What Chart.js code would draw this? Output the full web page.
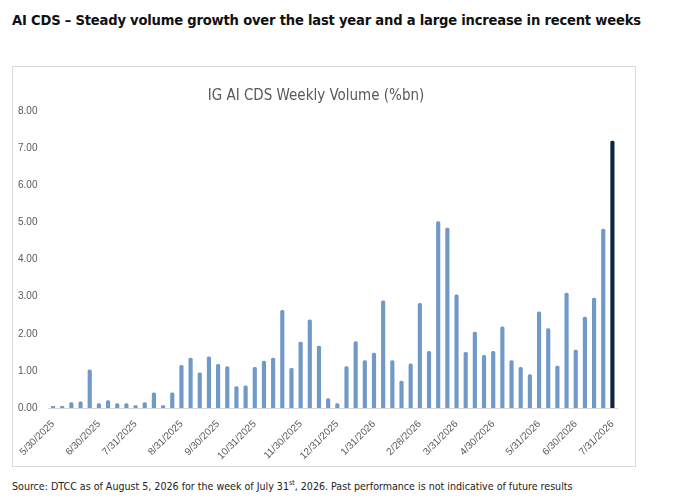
<!DOCTYPE html>
<html><head><meta charset="utf-8">
<script src="https://cdn.jsdelivr.net/npm/chart.js@4/dist/chart.umd.min.js"></script>
<style>
body{margin:0;background:#fff;width:678px;height:498px;position:relative;font-family:"DejaVu Sans Condensed","DejaVu Sans",sans-serif;}
#head{position:absolute;left:12px;top:11px;font-weight:bold;font-size:14.6px;color:#111;letter-spacing:-0.2px;}
#box{position:absolute;left:12px;top:66px;width:624px;height:401px;border:1px solid #d9d9d9;box-sizing:border-box;}
#foot{position:absolute;left:12px;top:479px;font-size:10.6px;color:#222;}
#foot sup{font-size:7px;}
</style></head><body>
<div id="head">AI CDS – Steady volume growth over the last year and a large increase in recent weeks</div>
<div id="box"><canvas id="c"></canvas></div>
<div id="foot">Source: DTCC as of August 5, 2026 for the week of July 31<sup>st</sup>, 2026. Past performance is not indicative of future results</div>
<script>
const volumes = [0.05,0.05,0.15,0.17,1.03,0.12,0.20,0.12,0.12,0.07,0.15,0.41,0.07,0.41,1.15,1.35,0.95,1.38,1.18,1.12,
  0.58,0.60,1.10,1.27,1.35,2.63,1.07,1.78,2.38,1.67,0.26,0.12,1.12,1.79,1.28,1.48,2.89,1.28,0.73,1.19,
  2.82,1.53,5.02,4.85,3.05,1.50,2.05,1.42,1.53,2.19,1.28,1.10,0.90,2.59,2.14,1.13,3.10,1.56,2.45,2.96,4.82,7.19];
const tickLabels = {0:'5/30/2025',5:'6/30/2025',9:'7/31/2025',14:'8/31/2025',18:'9/30/2025',22:'10/31/2025',
  27:'11/30/2025',31:'12/31/2025',35:'1/31/2026',40:'2/28/2026',44:'3/31/2026',48:'4/30/2026',53:'5/31/2026',57:'6/30/2026',61:'7/31/2026'};
const labels = volumes.map((v, i) => tickLabels[i] || '');
const lastIdx = volumes.length - 1;

new Chart(document.getElementById('c'), {
  type: 'bar',
  data: { labels: labels, datasets: [{
    data: volumes,
    backgroundColor: ctx => ctx.dataIndex === lastIdx ? '#0e2641' : '#7199c8',
    barThickness: ctx => ctx.dataIndex === lastIdx ? 5 : 3.5,
    borderRadius: 1.5, borderSkipped: 'bottom'
  }]},
  options: {
    responsive: true, maintainAspectRatio: false, animation: false,
    layout: { padding: { left: 2, right: 18, top: 4, bottom: 2 } },
    plugins: { legend: { display: false }, tooltip: { enabled: false },
      title: { display: true, text: 'IG AI CDS Weekly Volume (%bn)', color: '#595959',
        font: { family: 'DejaVu Sans Condensed', size: 15, weight: 'normal' }, padding: { top: 16, bottom: 6 } } },
    scales: {
      x: { grid: { display: false }, border: { color: '#d9d9d9' },
        ticks: { autoSkip: false, maxRotation: 45, minRotation: 45, color: '#595959',
          font: { family: 'Liberation Sans', size: 10 }, padding: 2 } },
      y: { min: 0, max: 8, grid: { display: false }, border: { display: false },
        ticks: { stepSize: 1, color: '#595959', font: { family: 'Liberation Sans', size: 10 },
          callback: v => v.toFixed(2) } }
    }
  }
});
</script></body></html>
